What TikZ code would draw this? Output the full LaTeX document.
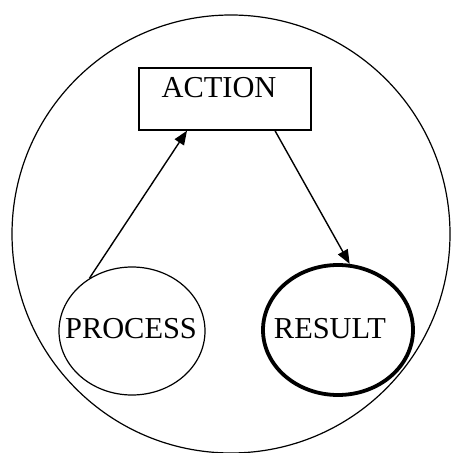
\documentclass[tikz,border=0pt]{standalone}
\usepackage{fontspec}
\setmainfont{Liberation Serif}
\usetikzlibrary{positioning,arrows.meta,calc,shapes.geometric}
\tikzset{
  outerring/.style={draw, circle, line width=0.6pt, minimum size=219pt, inner sep=0pt},
  actbox/.style={draw, rectangle, line width=0.7pt, minimum width=86pt, minimum height=31pt, inner sep=0pt},
  steplabel/.style={font=\fontsize{15.2}{17}\selectfont, inner sep=0pt},
  stage/.style={draw, ellipse, line width=0.6pt, minimum width=73pt, minimum height=64pt, inner sep=0pt},
  stagebold/.style={stage, line width=1.9pt, minimum width=75pt, minimum height=65pt},
  steparrow/.style={-{Triangle[length=7pt,width=5.5pt]}, line width=0.7pt},
}

\begin{document}
\begin{tikzpicture}[x=0.5pt,y=-0.5pt]
  \useasboundingbox (0,0) rectangle (451,453);
  % outer cycle
  \node[outerring] (cycle) at (231,234) {};
  % action box
  \node[actbox] (action) at (225,99) {};
  \node[steplabel, anchor=base] (actiontext) at (219,98) {ACTION};
  % process and result
  \node[stage] (process) at (132,331) {};
  \node[steplabel, anchor=base] (processtext) at (131,338) {PROCESS};
  \node[stagebold] (result) at (338,330) {};
  \node[steplabel, anchor=base] (resulttext) at (330,338) {RESULT};
  % arrows
  \draw[steparrow] (process.129) -- ([xshift=-19pt]action.south);
  \draw[steparrow] ([xshift=25pt]action.south) -- (result.80);
\end{tikzpicture}
\end{document}
